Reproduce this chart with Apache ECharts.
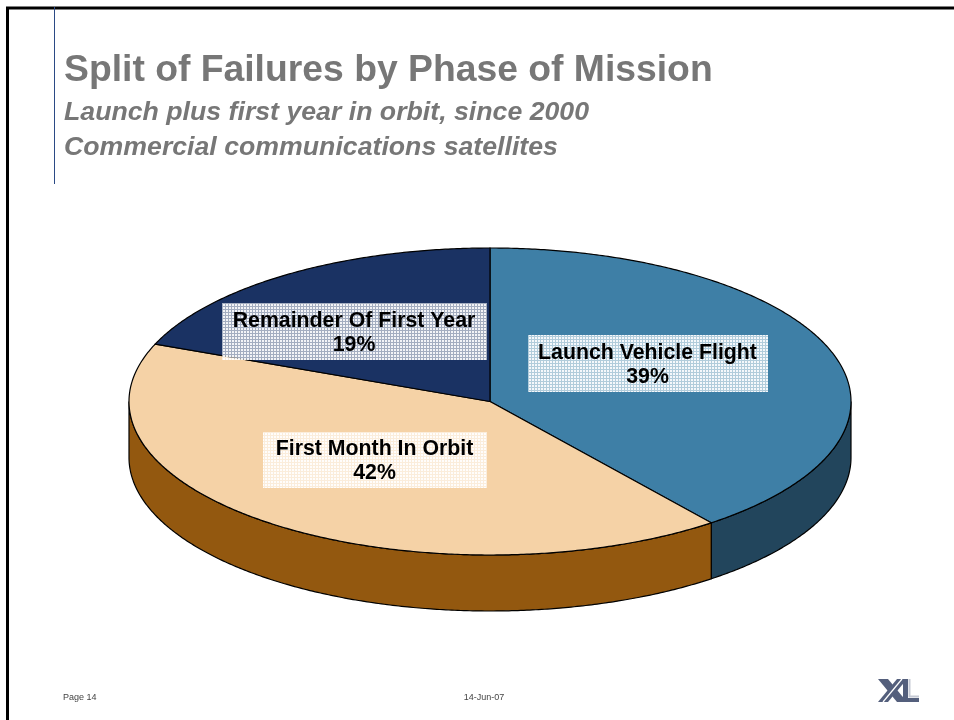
<!DOCTYPE html>
<html>
<head>
<meta charset="utf-8">
<style>
  html, body { margin: 0; padding: 0; background: #fff; }
  #main { width: 954px; height: 720px; }
</style>
<script src="https://cdn.jsdelivr.net/npm/echarts@6/dist/echarts.min.js"></script>
</head>
<body>
<div id="main"></div>
<script>
  // the printed labels are rounded
  var categories = ['Launch Vehicle Flight', 'First Month In Orbit', 'Remainder Of First Year'];
  var shares = [39.5, 41.6, 18.9];
  var percentLabels = ['39%', '42%', '19%'];

  var topColors = ['#3E7FA6', '#F5D2A6', '#1A3263'];
  var sideColors = ['#22455C', '#93580F', '#1A3263'];

  // pie geometry and label boxes, in pixels
  var pie = {cx: 490, cy: 401.5, rx: 361, ry: 153.5, depth: 56};
  var labelBoxes = [
    {x: 528, y: 335, w: 240, h: 57, dy: 2},
    {x: 263, y: 432, w: 224, h: 56, dy: 1},
    {x: 222, y: 303, w: 265, h: 57, dy: 2}
  ];

  // see-through grid behind the slice labels
  function makeGrid () {
    var c = document.createElement('canvas');
    c.width = 3;
    c.height = 3;
    var ctx = c.getContext('2d');
    ctx.fillStyle = 'rgba(255,255,255,0.95)';
    ctx.fillRect(1, 1, 2, 2);
    ctx.fillStyle = 'rgba(255,255,255,0.6)';
    ctx.fillRect(0, 0, 3, 1);
    ctx.fillRect(0, 1, 1, 2);
    return c;
  }
  var gridImage = makeGrid();

  function pt (t, dy) {
    return [pie.cx + pie.rx * Math.sin(t), pie.cy - pie.ry * Math.cos(t) + (dy || 0)];
  }

  // arc as a list of points, t runs clockwise from 12 o'clock
  function arcPoints (t0, t1, dy) {
    var steps = Math.max(2, Math.ceil(Math.abs(t1 - t0) * 120));
    var pts = [];
    for (var i = 0; i <= steps; i++) {
      pts.push(pt(t0 + (t1 - t0) * i / steps, dy));
    }
    return pts;
  }

  var total = shares.reduce(function (a, b) { return a + b; }, 0);
  var bounds = [0];
  shares.forEach(function (v, i) {
    bounds.push(bounds[i] + v / total * Math.PI * 2);
  });

  function renderItem (params) {
    var i = params.dataIndex;
    var t0 = bounds[i];
    var t1 = bounds[i + 1];
    var children = [];

    // the wall only shows on the front half of the ellipse
    var s0 = Math.max(t0, Math.PI / 2);
    var s1 = Math.min(t1, Math.PI * 1.5);
    if (s1 > s0) {
      children.push({
        type: 'polygon',
        shape: {points: arcPoints(s0, s1, 0).concat(arcPoints(s1, s0, pie.depth))},
        style: {fill: sideColors[i], stroke: '#000', lineWidth: 1.2}
      });
    }
    children.push({
      type: 'polygon',
      z2: 1,
      shape: {points: [[pie.cx, pie.cy]].concat(arcPoints(t0, t1, 0))},
      style: {fill: topColors[i], stroke: '#000', lineWidth: 1.2}
    });
    return {type: 'group', children: children};
  }

  function renderLabel (params) {
    var i = params.dataIndex;
    var box = labelBoxes[i];
    return {
      type: 'group',
      children: [
        {
          type: 'rect',
          shape: {x: box.x, y: box.y, width: box.w, height: box.h},
          style: {fill: {image: gridImage, repeat: 'repeat'}}
        },
        {
          type: 'text',
          z2: 1,
          style: {
            x: box.x + box.w / 2 - 0.5,
            y: box.y + box.h / 2 + box.dy,
            text: categories[i] + '\n' + percentLabels[i],
            align: 'center',
            verticalAlign: 'middle',
            fill: '#000',
            font: 'bold 21.3px "Liberation Sans"',
            lineHeight: 24
          }
        }
      ]
    };
  }

  var myChart = echarts.init(document.getElementById('main'));
  myChart.setOption({
    animation: false,
    backgroundColor: '#fff',
    title: {
      text: 'Split of Failures by Phase of Mission',
      subtext: 'Launch plus first year in orbit, since 2000\nCommercial communications satellites',
      left: 59,
      top: 47,
      itemGap: 6,
      textStyle: {
        fontFamily: 'Liberation Sans',
        fontWeight: 'bold',
        fontSize: 37.3,
        color: '#777777'
      },
      subtextStyle: {
        fontFamily: 'Liberation Sans',
        fontWeight: 'bold',
        fontStyle: 'italic',
        fontSize: 26.7,
        lineHeight: 35,
        color: '#777777'
      }
    },
    graphic: [
      // slide frame
      {type: 'rect', shape: {x: 7.5, y: 8, width: 960, height: 730}, style: {fill: 'none', stroke: '#000', lineWidth: 3}},
      {type: 'line', shape: {x1: 54.5, y1: 7, x2: 54.5, y2: 184}, style: {stroke: '#2B4A85', lineWidth: 1}},
      // footer
      {type: 'text', style: {x: 63, y: 698, text: 'Page 14', fill: '#444', font: '9px "Liberation Sans"', verticalAlign: 'middle'}},
      {type: 'text', style: {x: 484, y: 698, text: '14-Jun-07', fill: '#444', font: '9px "Liberation Sans"', align: 'center', verticalAlign: 'middle'}},
      // XL logo
      {type: 'polygon', shape: {points: [[878, 679], [888, 679], [907, 702], [897, 702]]}, style: {fill: '#545F7C'}},
      {type: 'polygon', shape: {points: [[878, 702], [888, 702], [907, 679], [897, 679]]}, style: {fill: '#545F7C'}},
      {type: 'line', shape: {x1: 883, y1: 702, x2: 902, y2: 679}, style: {stroke: '#fff', lineWidth: 1.2}},
      {type: 'polygon', shape: {points: [[903, 679], [908, 679], [908, 698], [919, 698], [919, 702], [903, 702]]}, style: {fill: '#545F7C'}},
      {type: 'polyline', shape: {points: [[909.5, 679], [909.5, 696.5], [919, 696.5]]}, style: {stroke: '#C5C9D4', fill: 'none', lineWidth: 2}}
    ],
    series: [
      {
        type: 'custom',
        coordinateSystem: 'none',
        silent: true,
        renderItem: renderItem,
        data: shares
      },
      {
        type: 'custom',
        coordinateSystem: 'none',
        silent: true,
        z: 5,
        renderItem: renderLabel,
        data: shares
      }
    ]
  });
</script>
</body>
</html>
